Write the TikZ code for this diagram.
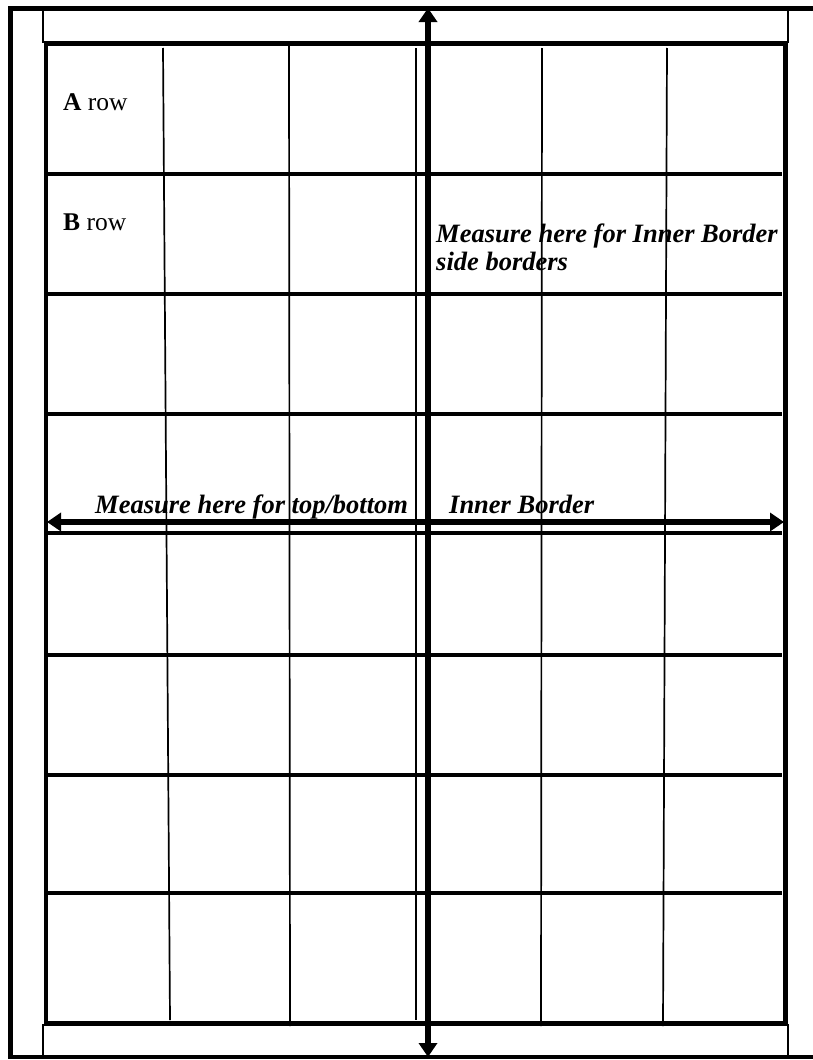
\documentclass[tikz,border=0pt]{standalone}
\usepackage{fontspec}
\setmainfont{Liberation Serif}
\usetikzlibrary{arrows.meta}
\begin{document}
\begin{tikzpicture}[x=1pt,y=-1pt,
  outerline/.style={line width=4.5pt, line join=miter},
  frameline/.style={line width=4.2pt, line join=miter},
  rowline/.style={line width=4.3pt},
  colline/.style={line width=1.7pt},
  stripline/.style={line width=1.4pt},
  measurearrow/.style={line width=5.5pt, {Triangle[length=14pt,width=18pt]}-{Triangle[length=14pt,width=18pt]}},
  rowlabel/.style={anchor=base west, inner sep=0pt, font=\fontsize{25.5}{30}\selectfont},
  measurelabel/.style={anchor=base west, inner sep=0pt, font=\fontsize{26.5}{30}\selectfont\bfseries\itshape}]
\useasboundingbox (0,0) rectangle (813,1060);
% outer frame
\draw[outerline] (813,8.3) -- (10.5,8.3) -- (10.5,1057) -- (813,1057);
% top and bottom strips
\draw[stripline] (43,9) -- (43,43);
\draw[stripline] (788,9) -- (788,43);
\draw[stripline] (43,1024) -- (43,1056);
\draw[stripline] (788,1024) -- (788,1056);
% inner frame
\draw[frameline] (46,43.5) rectangle (785.5,1023.5);
\draw[frameline] (785,43.5) -- (788,43.5);
% column lines
\draw[colline] (163,48) -- (170,1020);
\draw[colline] (289,44) -- (290,1026);
\draw[colline] (416,48) -- (416,1020);
\draw[colline] (542,48) -- (541,1026);
\draw[colline] (667,48) -- (663,1026);
% row lines
\foreach \yy in {174,294,414,533,655,775,893}
  \draw[rowline] (47,\yy) -- (782,\yy);
% labels
\node[rowlabel] (arow) at (63,110) {\textbf{A} row};
\node[rowlabel] (brow) at (63,230) {\textbf{B} row};
\node[measurelabel] (side1) at (436,242) {Measure here for Inner Border};
\node[measurelabel] (side2) at (436,270) {side borders};
\node[measurelabel] (topbot) at (95,513) {Measure here for top/bottom};
\node[measurelabel] (inner) at (449,513) {Inner Border};
% measuring arrows
\coordinate (vtop) at (428,8);
\coordinate (vbot) at (428,1057);
\coordinate (hleft) at (47,522);
\coordinate (hright) at (784,522);
\draw[measurearrow] (vtop) -- (vbot);
\draw[measurearrow] (hleft) -- (hright);
\end{tikzpicture}
\end{document}
